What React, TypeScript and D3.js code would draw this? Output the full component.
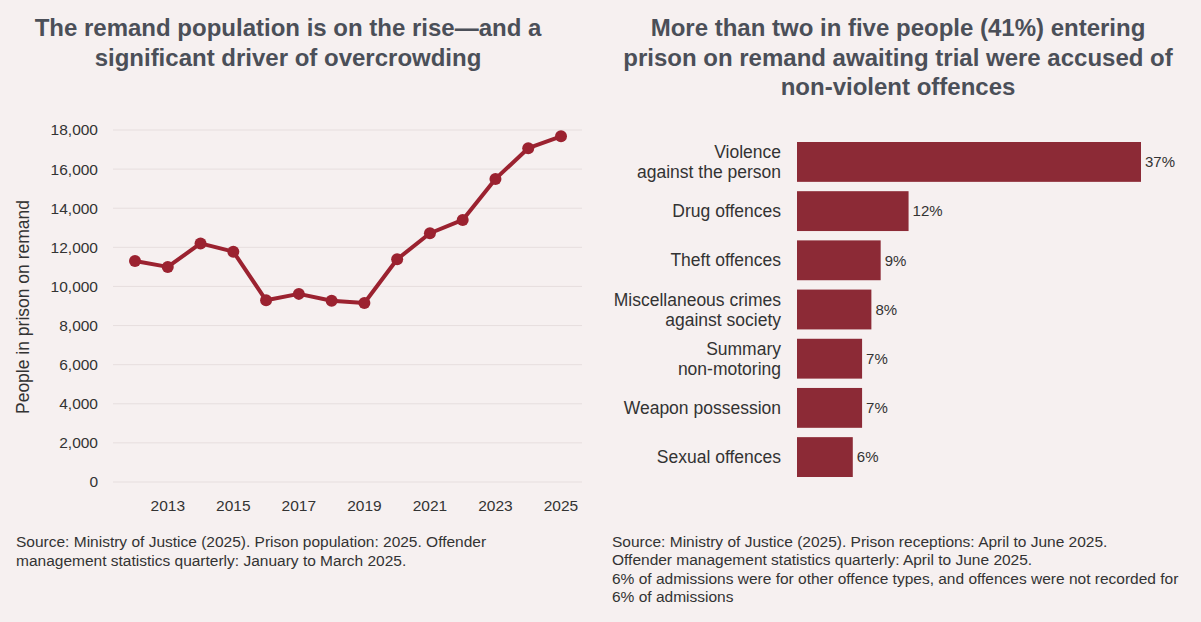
import * as d3 from "d3";

const years = [2012, 2013, 2014, 2015, 2016, 2017, 2018, 2019, 2020, 2021, 2022, 2023, 2024, 2025];
const remand = [11300, 11000, 12200, 11780, 9290, 9620, 9270, 9150, 11390, 12720, 13400, 15500, 17070, 17680];
const yearTicks = [2013, 2015, 2017, 2019, 2021, 2023, 2025];
const remandTicks = [0, 2000, 4000, 6000, 8000, 10000, 12000, 14000, 16000, 18000];

const offences = [
	["Violence", "against the person"],
	["Drug offences"],
	["Theft offences"],
	["Miscellaneous crimes", "against society"],
	["Summary", "non-motoring"],
	["Weapon possession"],
	["Sexual offences"],
];
const shares = [37, 12, 9, 8, 7, 7, 6];

const leftTitle = ["The remand population is on the rise\u2014and a", "significant driver of overcrowding"];
const rightTitle = [
	"More than two in five people (41%) entering",
	"prison on remand awaiting trial were accused of",
	"non-violent offences",
];
const leftSource = [
	"Source: Ministry of Justice (2025). Prison population: 2025. Offender",
	"management statistics quarterly: January to March 2025.",
];
const rightSource = [
	"Source: Ministry of Justice (2025). Prison receptions: April to June 2025.",
	"Offender management statistics quarterly: April to June 2025.",
	"6% of admissions were for other offence types, and offences were not recorded for",
	"6% of admissions",
];

const width = 1201;
const height = 622;
const bg = "#f6f0f0";
const red = "#9b2230";
const barRed = "#8c2a36";
const titleColor = "#4b4f58";
const textColor = "#333333";
const font = "'Liberation Sans', Arial, Helvetica, sans-serif";

export default function App() {
	const x = d3.scaleLinear([2012, 2025], [135, 561]);
	const y = d3.scaleLinear([0, 18000], [482, 130]);
	const line = d3.line<number>((_, i) => x(years[i]), (d) => y(d));

	const labels = offences.map((o) => o.join(" "));
	const bx = d3.scaleLinear([0, 37], [797, 1141]);
	const by = d3.scaleBand(labels, [142, 477]).paddingInner(0.19);

	return (
		<svg
			width={width}
			height={height}
			style={{ position: "absolute", left: 0, top: 0, fontFamily: font }}
		>
			<rect width={width} height={height} fill={bg} />

			{/* left: line chart */}
			<g fill={titleColor} fontSize={24} fontWeight="bold" textAnchor="middle">
				{leftTitle.map((t, i) => (
					<text key={i} x={288} y={36 + i * 30}>{t}</text>
				))}
			</g>
			<g>
				{remandTicks.map((t) => (
					<g key={t}>
						<line x1={113} x2={582} y1={y(t)} y2={y(t)} stroke="#e6dede" strokeWidth={1} />
						<text x={98} y={y(t)} dy="0.35em" textAnchor="end" fontSize={15.5} fill={textColor}>
							{d3.format(",")(t)}
						</text>
					</g>
				))}
				{yearTicks.map((t) => (
					<text key={t} x={x(t)} y={511} textAnchor="middle" fontSize={15.5} fill={textColor}>
						{t}
					</text>
				))}
				<text
					transform={`translate(29,307) rotate(-90)`}
					textAnchor="middle"
					fontSize={17.5}
					fill={textColor}
				>
					People in prison on remand
				</text>
			</g>
			<path d={line(remand) ?? ""} fill="none" stroke={red} strokeWidth={4} strokeLinejoin="round" />
			<g fill={red}>
				{remand.map((v, i) => (
					<circle key={years[i]} cx={x(years[i])} cy={y(v)} r={6} />
				))}
			</g>
			<g fontSize={15.5} fill={textColor}>
				{leftSource.map((t, i) => (
					<text key={i} x={16} y={547 + i * 18.5}>{t}</text>
				))}
			</g>

			{/* right: bar chart */}
			<g fill={titleColor} fontSize={24} fontWeight="bold" textAnchor="middle">
				{rightTitle.map((t, i) => (
					<text key={i} x={898} y={36 + i * 29.5}>{t}</text>
				))}
			</g>
			{labels.map((l, i) => {
				const top = by(l) ?? 0;
				const mid = top + by.bandwidth() / 2;
				const parts = offences[i];
				return (
					<g key={l}>
						<rect x={bx(0)} y={top} width={bx(shares[i]) - bx(0)} height={by.bandwidth()} fill={barRed} />
						<text x={bx(shares[i]) + 4} y={mid} dy="0.35em" fontSize={15} fill={textColor}>
							{shares[i]}%
						</text>
						{parts.map((p, j) => (
							<text
								key={j}
								x={781}
								y={mid + (j - (parts.length - 1) / 2) * 20}
								dy="0.35em"
								textAnchor="end"
								fontSize={17.5}
								fill={textColor}
							>
								{p}
							</text>
						))}
					</g>
				);
			})}
			<g fontSize={15.5} fill={textColor}>
				{rightSource.map((t, i) => (
					<text key={i} x={612} y={547 + i * 18.3}>{t}</text>
				))}
			</g>
		</svg>
	);
}
